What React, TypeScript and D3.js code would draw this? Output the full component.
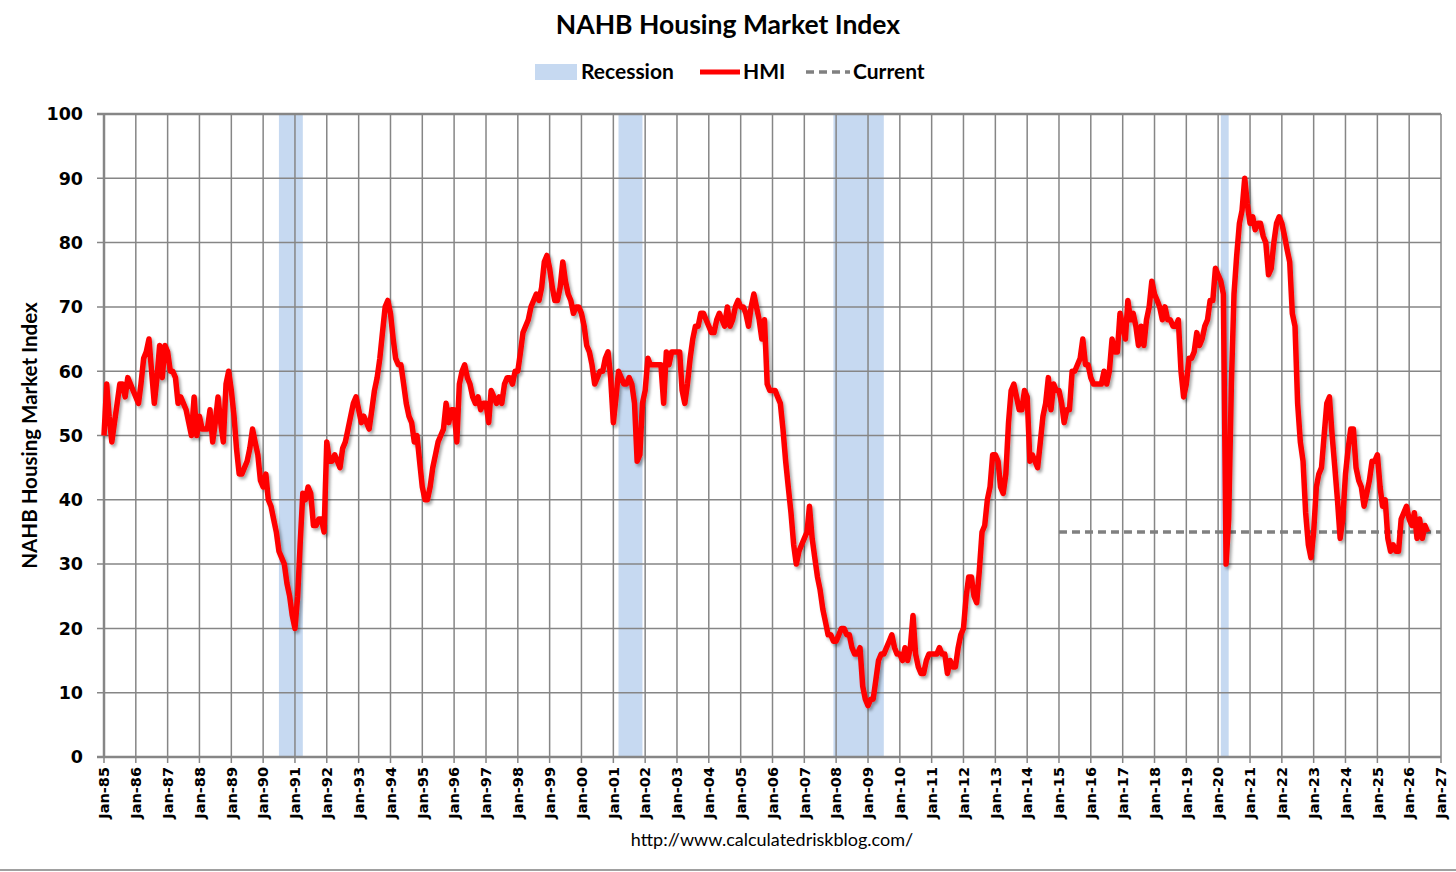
import React from "react";
import * as d3 from "d3";

// NAHB HMI, monthly from Jan 1985
const hmi1985_1994 = [
  50, 58, 53, 49, 52, 55, 58, 58, 56, 59, 58, 57,
  56, 55, 58, 62, 63, 65, 60, 55, 59, 64, 59, 64,
  63, 60, 60, 59, 55, 56, 55, 54, 52, 50, 56, 50,
  53, 51, 51, 51, 54, 49, 52, 56, 52, 49, 58, 60,
  57, 53, 48, 44, 44, 45, 46, 48, 51, 49, 47, 43,
  42, 44, 40, 39, 37, 35, 32, 31, 30, 27, 25, 22,
  20, 25, 33, 41, 40, 42, 41, 36, 36, 37, 37, 35,
  49, 46, 46, 47, 46, 45, 48, 49, 51, 53, 55, 56,
  54, 52, 53, 52, 51, 54, 57, 59, 62, 66, 70, 71,
  69, 65, 62, 61, 61, 58, 55, 53, 52, 49, 50, 46,
];
const hmi1995_2004 = [
  42, 40, 40, 42, 45, 47, 49, 50, 51, 55, 52, 54,
  54, 49, 58, 60, 61, 59, 58, 56, 55, 56, 54, 55,
  55, 52, 57, 56, 55, 56, 55, 58, 59, 59, 58, 60,
  60, 63, 66, 67, 68, 70, 71, 72, 71, 73, 77, 78,
  76, 73, 71, 71, 73, 77, 74, 72, 71, 69, 70, 70,
  69, 67, 64, 63, 61, 58, 59, 60, 60, 62, 63, 59,
  52, 56, 60, 59, 58, 58, 59, 58, 55, 46, 47, 55,
  57, 62, 61, 61, 61, 61, 61, 55, 63, 61, 63, 63,
  63, 63, 57, 55, 58, 62, 65, 67, 67, 69, 69, 68,
  67, 66, 66, 68, 69, 68, 67, 70, 67, 68, 70, 71,
];
const hmi2005_2014 = [
  70, 70, 69, 67, 70, 72, 70, 68, 65, 68, 58, 57,
  57, 57, 56, 55, 51, 46, 42, 38, 33, 30, 32, 33,
  34, 35, 39, 34, 31, 28, 26, 23, 21, 19, 19, 18,
  18, 19, 20, 20, 19, 19, 17, 16, 16, 17, 11, 9,
  8, 9, 9, 12, 15, 16, 16, 17, 18, 19, 17, 16,
  16, 15, 17, 15, 17, 22, 16, 14, 13, 13, 15, 16,
  16, 16, 16, 17, 16, 16, 13, 15, 14, 14, 17, 19,
  20, 25, 28, 28, 25, 24, 29, 35, 36, 40, 42, 47,
  47, 46, 42, 41, 44, 52, 57, 58, 56, 54, 54, 57,
  56, 46, 47, 46, 45, 49, 53, 55, 59, 54, 58, 57,
];
const hmi2015_2026 = [
  57, 55, 52, 54, 54, 60, 60, 61, 62, 65, 61, 61,
  59, 58, 58, 58, 58, 60, 58, 60, 65, 63, 63, 69,
  67, 65, 71, 68, 69, 67, 64, 67, 64, 68, 70, 74,
  72, 71, 70, 68, 70, 68, 68, 67, 67, 68, 60, 56,
  58, 62, 62, 63, 66, 64, 65, 67, 68, 71, 71, 76,
  75, 74, 72, 30, 37, 58, 72, 78, 83, 85, 90, 86,
  83, 84, 82, 83, 83, 81, 80, 75, 76, 80, 83, 84,
  83, 81, 79, 77, 69, 67, 55, 49, 46, 38, 33, 31,
  35, 42, 44, 45, 50, 55, 56, 50, 45, 40, 34, 37,
  44, 48, 51, 51, 45, 43, 42, 39, 41, 43, 46, 46,
  47, 42, 39, 40, 34, 32, 33, 32, 32, 37, 38, 39,
  37, 36, 38, 34, 37, 34, 36, 35,
];
const hmiValues = [...hmi1985_1994, ...hmi1995_2004, ...hmi2005_2014, ...hmi2015_2026];

// recessions: [first month, last month]
const recessions = [
  ["1990-07", "1991-03"],
  ["2001-03", "2001-11"],
  ["2007-12", "2009-06"],
  ["2020-02", "2020-04"],
];

const currentValue = 35;
const currentStart = "2015-01";
const yTicks = [0, 10, 20, 30, 40, 50, 60, 70, 80, 90, 100];

const W = 1456;
const H = 872;
const M = { left: 104, right: 1441, top: 114, bottom: 757 };

const parseMonth = d3.timeParse("%Y-%m");
const start = new Date(1985, 0, 1);
const series = hmiValues.map((v, i) => ({ date: d3.timeMonth.offset(start, i), value: v }));

const x = d3.scaleTime().domain([start, new Date(2027, 0, 1)]).range([M.left, M.right]);
const y = d3.scaleLinear().domain([0, 100]).range([M.bottom, M.top]);
const years = d3.timeYear.range(start, new Date(2027, 0, 2));
const fmt = d3.timeFormat("Jan-%y");

const line = d3
  .line<{ date: Date; value: number }>()
  .x((d) => x(d.date))
  .y((d) => y(d.value));

const grid = "#868686";

export default function App() {
  return (
    <svg width={W} height={H} style={{ position: "absolute", left: 0, top: 0, background: "#fff" }}>
      <defs>
        <filter id="shadow" x="-5%" y="-5%" width="110%" height="110%">
          <feDropShadow dx="2" dy="2.5" stdDeviation="1.5" floodColor="#000" floodOpacity="0.35" />
        </filter>
      </defs>

      <text x={728} y={34} textAnchor="middle" fontFamily="Lato" fontWeight="bold" fontSize={26.5} fill="#000">
        NAHB Housing Market Index
      </text>

      {/* legend */}
      <g fontFamily="Lato" fontWeight="bold" fontSize={21} fill="#000">
        <rect x={535} y={64} width={42} height={16} fill="#c6d9f1" />
        <text x={581} y={79}>Recession</text>
        <line x1={700} x2={740} y1={72} y2={72} stroke="#ff0000" strokeWidth={5} />
        <text x={743} y={79}>HMI</text>
        <line x1={806} x2={850} y1={72} y2={72} stroke="#808080" strokeWidth={3.5} strokeDasharray="8 5" />
        <text x={853} y={79}>Current</text>
      </g>

      {/* recession bands */}
      {recessions.map(([a, b]) => {
        const x0 = x(parseMonth(a)!);
        const x1 = x(d3.timeMonth.offset(parseMonth(b)!, 1));
        return <rect key={a} x={x0} y={M.top} width={x1 - x0} height={M.bottom - M.top} fill="#c6d9f1" />;
      })}

      {/* grid */}
      {yTicks.map((t) => (
        <line key={"h" + t} x1={M.left - 7} x2={M.right} y1={y(t)} y2={y(t)} stroke={grid}
          strokeWidth={t === 100 || t === 0 ? 2.5 : 1.5} />
      ))}
      {years.map((d) => (
        <line key={"v" + d.getFullYear()} x1={x(d)} x2={x(d)} y1={M.top} y2={M.bottom + 6} stroke={grid}
          strokeWidth={1.5} />
      ))}
      <line x1={M.left} x2={M.left} y1={M.top} y2={M.bottom} stroke={grid} strokeWidth={2.5} />

      {/* y axis labels */}
      {yTicks.map((t) => (
        <text key={"yl" + t} x={83} y={y(t)} dy="0.36em" textAnchor="end" fontFamily="DejaVu Sans"
          fontWeight="bold" fontSize={17.5} fill="#000">
          {t}
        </text>
      ))}
      <text transform={`translate(37,${(M.top + M.bottom) / 2}) rotate(-90)`} textAnchor="middle"
        fontFamily="Lato" fontWeight="bold" fontSize={20.5} fill="#000">
        NAHB Housing Market Index
      </text>

      {/* x axis labels */}
      {years.map((d) => (
        <text key={"xl" + d.getFullYear()} transform={`translate(${x(d)},767) rotate(-90)`} dy="0.36em"
          textAnchor="end" fontFamily="DejaVu Sans" fontWeight="bold" fontSize={14.5} fill="#000">
          {fmt(d)}
        </text>
      ))}

      {/* current level */}
      <line x1={x(parseMonth(currentStart)!)} x2={M.right} y1={y(currentValue)} y2={y(currentValue)}
        stroke="#808080" strokeWidth={3.5} strokeDasharray="8 5" />

      {/* HMI */}
      <path d={line(series)!} fill="none" stroke="#ff0000" strokeWidth={5.5} strokeLinejoin="round"
        filter="url(#shadow)" />

      <text x={772} y={846} textAnchor="middle" fontFamily="Lato" fontSize={18} fill="#000">
        http://www.calculatedriskblog.com/
      </text>
      <line x1={0} x2={W} y1={870} y2={870} stroke="#a0a0a0" strokeWidth={2} />
    </svg>
  );
}
